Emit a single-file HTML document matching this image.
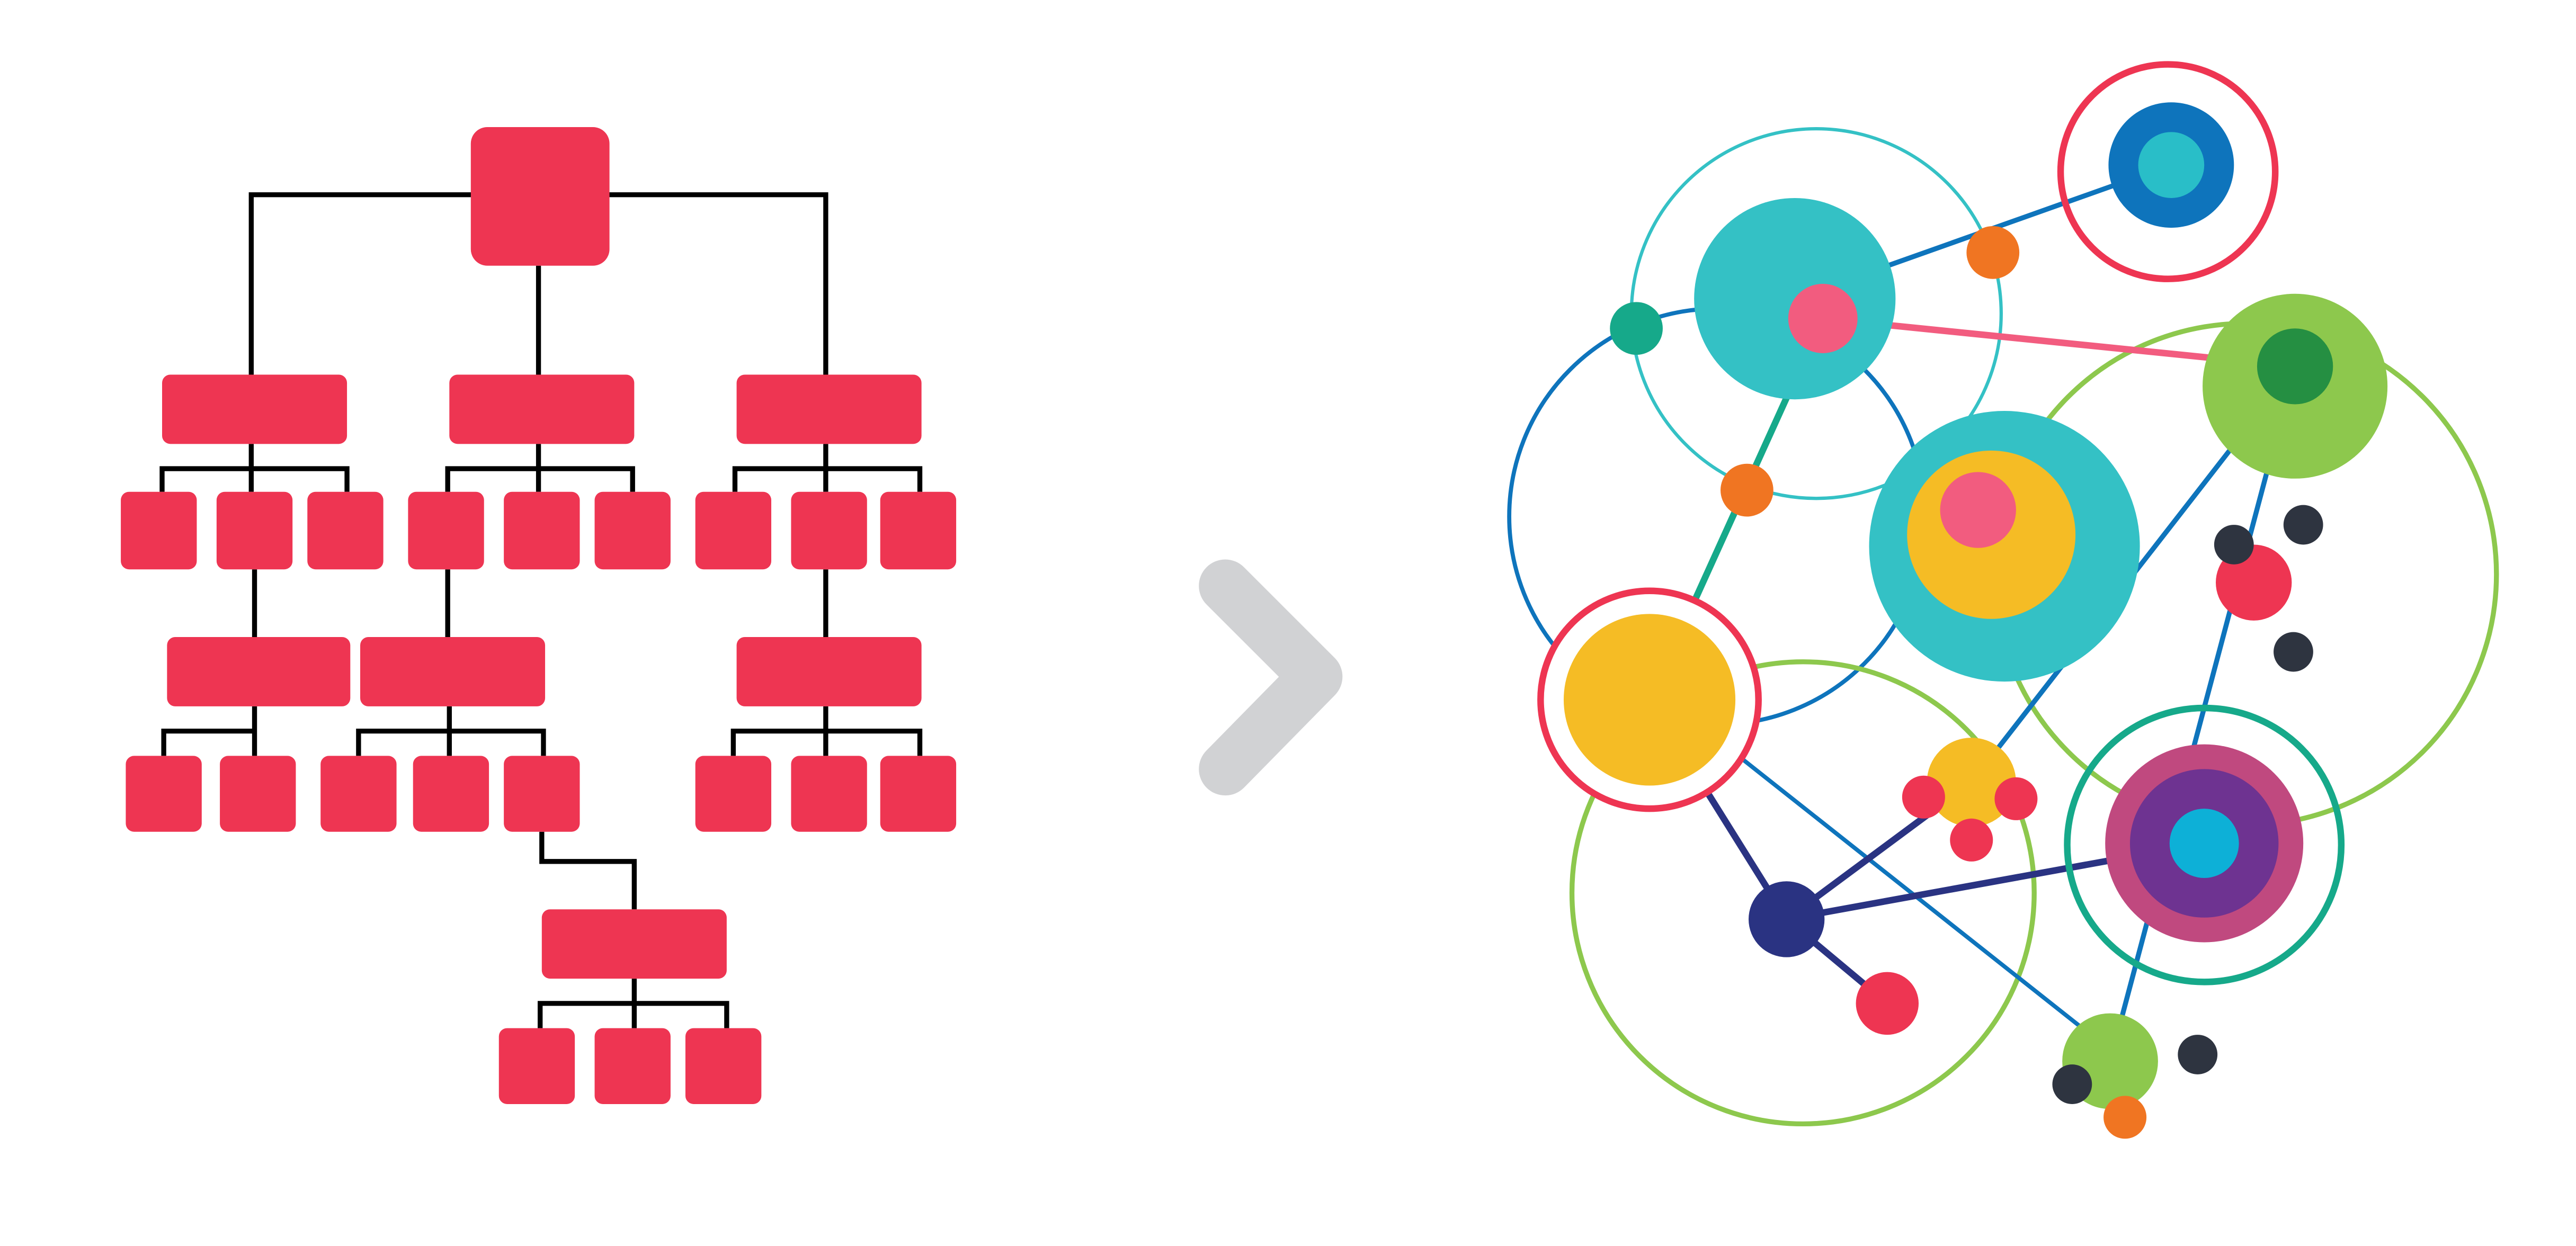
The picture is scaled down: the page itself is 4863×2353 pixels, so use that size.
<!DOCTYPE html>
<html><head><meta charset="utf-8"><style>html,body{margin:0;padding:0;background:#fff}svg{display:block}</style></head>
<body>
<svg width="4863" height="2353" viewBox="0 0 1560 755" xmlns="http://www.w3.org/2000/svg">
<rect width="1560" height="755" fill="#fff"/>
<g fill="none" stroke="#000" stroke-width="3">
<path d="M152 227V118H500V227M326 161V227"/>
<path d="M152 269V284M98 298V284H210V298M152 284V298"/>
<path d="M326 269V284M271 298V284H383V298M326 284V298"/>
<path d="M500 269V284M445 298V284H557V298M500 284V298"/>
<path d="M154 345V386M271 345V386M500 345V386"/>
<path d="M154 428V458M99 458V443H154"/>
<path d="M272 428V458M217 458V443H329V458"/>
<path d="M500 428V458M444 458V443H557V458"/>
<path d="M328 504V522H384V551"/>
<path d="M384 593V623M327 623V608H440V623"/>
</g>
<g fill="#EE3552">
<rect x="285" y="77" width="84" height="84" rx="10"/>
<rect x="98" y="227" width="112" height="42" rx="5"/>
<rect x="272" y="227" width="112" height="42" rx="5"/>
<rect x="446" y="227" width="112" height="42" rx="5"/>
<rect x="73" y="298" width="46" height="47" rx="5"/>
<rect x="131" y="298" width="46" height="47" rx="5"/>
<rect x="186" y="298" width="46" height="47" rx="5"/>
<rect x="247" y="298" width="46" height="47" rx="5"/>
<rect x="305" y="298" width="46" height="47" rx="5"/>
<rect x="360" y="298" width="46" height="47" rx="5"/>
<rect x="421" y="298" width="46" height="47" rx="5"/>
<rect x="479" y="298" width="46" height="47" rx="5"/>
<rect x="533" y="298" width="46" height="47" rx="5"/>
<rect x="101" y="386" width="111" height="42" rx="5"/>
<rect x="218" y="386" width="112" height="42" rx="5"/>
<rect x="446" y="386" width="112" height="42" rx="5"/>
<rect x="76" y="458" width="46" height="46" rx="5"/>
<rect x="133" y="458" width="46" height="46" rx="5"/>
<rect x="194" y="458" width="46" height="46" rx="5"/>
<rect x="250" y="458" width="46" height="46" rx="5"/>
<rect x="305" y="458" width="46" height="46" rx="5"/>
<rect x="421" y="458" width="46" height="46" rx="5"/>
<rect x="479" y="458" width="46" height="46" rx="5"/>
<rect x="533" y="458" width="46" height="46" rx="5"/>
<rect x="328" y="551" width="112" height="42" rx="5"/>
<rect x="302" y="623" width="46" height="46" rx="5"/>
<rect x="360" y="623" width="46" height="46" rx="5"/>
<rect x="415" y="623" width="46" height="46" rx="5"/>
</g>
<path d="M742 355L797 410L742 466" fill="none" stroke="#D1D2D4" stroke-width="32" stroke-linecap="round" stroke-linejoin="round"/>
<g fill="none">
<circle cx="1100" cy="190" r="112" stroke="#34C1C5" stroke-width="2"/>
<circle cx="1040" cy="313" r="126" stroke="#0E74BC" stroke-width="2.5"/>
<circle cx="1092" cy="541" r="140" stroke="#8DC84D" stroke-width="3"/>
<circle cx="1360" cy="348" r="152" stroke="#8DC84D" stroke-width="3"/>
</g>
<g fill="none" stroke-linecap="round">
<path d="M1087 181L1315 100" stroke="#0E74BC" stroke-width="3"/>
<path d="M1104 193L1390 222" stroke="#F25C7F" stroke-width="4"/>
<path d="M1087 230L1010 400" stroke="#16A98A" stroke-width="4"/>
<path d="M1390 222L1194 474" stroke="#0E74BC" stroke-width="3"/>
<path d="M1390 222L1278 643" stroke="#0E74BC" stroke-width="3"/>
<path d="M1030 440L1270 630" stroke="#0E74BC" stroke-width="2.5"/>
<path d="M999 424L1082 557L1143 608M1082 557L1194 474M1082 557L1335 511" stroke="#2A3382" stroke-width="4"/>
</g>
<circle cx="1313" cy="104" r="65" fill="none" stroke="#EE3552" stroke-width="4"/>
<circle cx="1315" cy="100" r="38" fill="#0E74BC"/>
<circle cx="1315" cy="100" r="20" fill="#29BEC8"/>
<circle cx="1087" cy="181" r="61" fill="#34C1C5"/>
<circle cx="1104" cy="193" r="21" fill="#F25C7F"/>
<circle cx="1207" cy="153" r="16" fill="#F07522"/>
<circle cx="1058" cy="297" r="16" fill="#F07522"/>
<circle cx="991" cy="199" r="16" fill="#16A98A"/>
<circle cx="1390" cy="234" r="56" fill="#8DC84D"/>
<circle cx="1390" cy="222" r="23" fill="#258F42"/>
<circle cx="1214" cy="331" r="82" fill="#34C1C5"/>
<circle cx="1206" cy="324" r="51" fill="#F5BC25"/>
<circle cx="1198" cy="309" r="23" fill="#F25C7F"/>
<circle cx="999" cy="424" r="66" fill="#fff" stroke="#EE3552" stroke-width="4"/>
<circle cx="999" cy="424" r="52" fill="#F5BC25"/>
<circle cx="1365" cy="353" r="23" fill="#EE3552"/>
<g fill="#2E3440">
<circle cx="1353" cy="330" r="12"/><circle cx="1395" cy="318" r="12"/>
<circle cx="1389" cy="395" r="12"/><circle cx="1331" cy="639" r="12"/>
</g>
<circle cx="1335" cy="512" r="83" fill="none" stroke="#16A98A" stroke-width="4"/>
<circle cx="1335" cy="511" r="60" fill="#C0497F"/>
<circle cx="1335" cy="511" r="45" fill="#6E3391"/>
<circle cx="1335" cy="511" r="21" fill="#0DB0D7"/>
<circle cx="1194" cy="474" r="27" fill="#F5BC25"/>
<g fill="#EE3552">
<circle cx="1165" cy="483" r="13"/><circle cx="1221" cy="484" r="13"/><circle cx="1194" cy="509" r="13"/>
<circle cx="1143" cy="608" r="19"/>
</g>
<circle cx="1082" cy="557" r="23" fill="#2A3382"/>
<circle cx="1278" cy="643" r="29" fill="#8DC84D"/>
<circle cx="1255" cy="657" r="12" fill="#2E3440"/>
<circle cx="1287" cy="677" r="13" fill="#F07522"/>
</svg>
</body></html>
